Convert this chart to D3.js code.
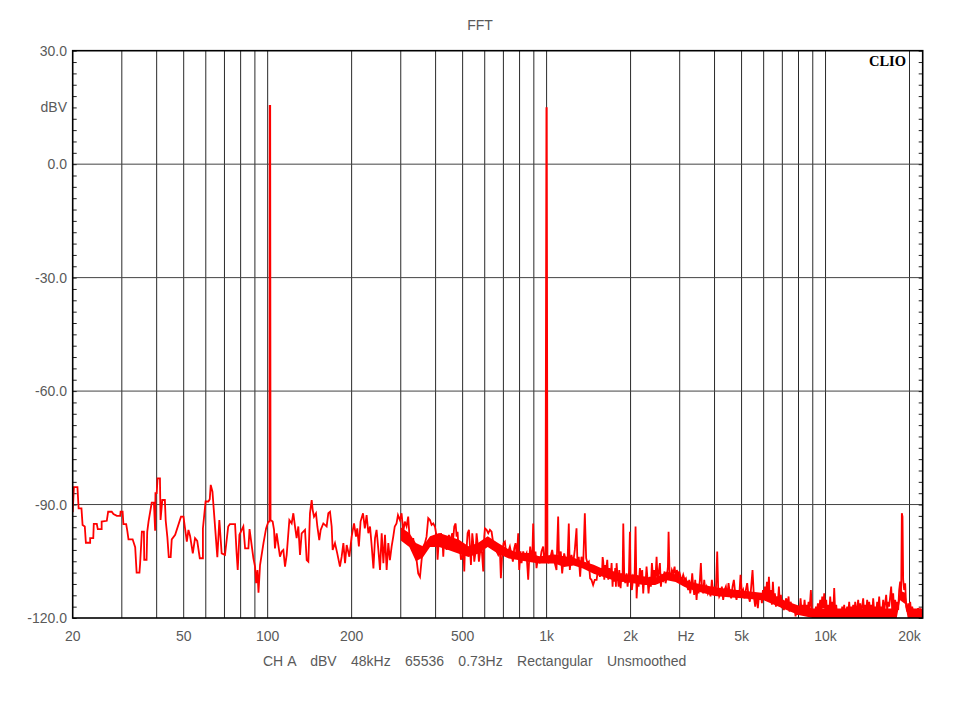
<!DOCTYPE html>
<html>
<head>
<meta charset="utf-8">
<script src="https://cdn.jsdelivr.net/npm/d3@7"></script>
<style>
  html, body { margin: 0; padding: 0; background: #fff; }
  text { font-family: "Liberation Sans", Arial, sans-serif; }
</style>
</head>
<body>
<div id="chart"></div>
<script>
// FFT trace as [Hz, dBV] pairs, one array per stretch
const lowBand = [
  [20.0,-92.0],[20.2,-85.4],[20.8,-85.4],[21.0,-91.0],[21.5,-91.0],[21.7,-95.4],[22.1,-95.8],[22.3,-100.1],
  [23.1,-100.1],[23.1,-98.9],[23.7,-98.9],[23.8,-95.1],[24.4,-95.1],[24.6,-96.5],[25.4,-96.5],[25.4,-94.5],
  [26.5,-94.3],[26.8,-91.9],[27.6,-91.9],[28.0,-92.5],[28.8,-93.0],[29.6,-93.0],[29.7,-91.9],[30.2,-91.9],
  [30.4,-95.2],[31.1,-95.2],[31.4,-97.0],[31.7,-99.2],[32.8,-99.2],[33.5,-101.3],[33.9,-108.0],[34.7,-108.0],
  [34.9,-105.5],[35.4,-97.2],[36.0,-97.2],[36.1,-104.6],[36.8,-104.6],[37.0,-97.2],[37.4,-94.5],[38.4,-89.5],
  [39.1,-89.5],[39.5,-96.9],[39.6,-87.0],[40.0,-87.0],[40.3,-83.1],[41.1,-83.1],[41.3,-94.1],[41.9,-88.8],
  [42.8,-88.8],[43.1,-94.3],[43.7,-98.7],[44.2,-103.9],[44.9,-103.9],[45.3,-99.2],[46.6,-98.0],[48.9,-93.2],
  [49.9,-93.2],[50.6,-96.5],[51.3,-99.8],[52.0,-96.7],[52.7,-98.3],[53.9,-102.9],[54.9,-98.9],[55.9,-99.6],
  [57.1,-104.2],[58.6,-104.2],[58.6,-96.3],[59.9,-89.2],[61.3,-89.2],[62.0,-88.6],[62.5,-84.8],[63.4,-86.6],
  [64.1,-91.4],[66.0,-103.9],[67.1,-94.1],[68.4,-102.9],[70.3,-103.3],[72.2,-95.8],[73.2,-95.2],[76.4,-95.2],
  [77.4,-102.9],[78.1,-107.3],[79.2,-98.0],[81.8,-95.8],[83.0,-101.6],[85.3,-101.6],[86.1,-96.5],[88.9,-104.2],
  [90.1,-106.4],[90.9,-110.8],[91.9,-107.3],[92.7,-113.3],[93.9,-106.0],[96.6,-100.2],[98.7,-96.3],[100.6,-94.5],
  [101.5,-94.5],[101.7,15.4],[102.1,15.4]
];

const midBand = [
  [102.4,-94.1],[104.2,-94.5],[105.4,-96.7],[106.2,-101.6],[107.7,-97.6],[109.2,-100.7],[110.7,-103.8],[112.3,-102.4],
  [113.8,-102.0],[115.4,-106.4],[117.0,-103.3],[119.6,-94.1],[121.9,-95.0],[123.6,-92.3],[125.3,-95.8],[127.0,-98.9],
  [128.8,-95.8],[130.6,-103.3],[132.4,-97.6],[136.1,-96.7],[138.0,-104.7],[139.9,-105.1],[141.8,-92.3],[143.8,-88.8],
  [145.0,-91.4],[146.6,-93.2],[149.0,-92.3],[150.7,-95.8],[153.1,-99.4],[154.9,-96.7],[158.3,-95.0],[162.7,-95.8],
  [165.0,-92.3],[167.3,-91.9],[169.6,-95.8],[171.0,-102.0],[174.3,-100.2],[177.6,-102.9],[181.6,-106.4],[184.2,-103.8],
  [186.8,-100.2],[189.4,-105.5],[192.0,-100.7],[196.3,-103.8],[200.0,-98.5],[204.0,-95.0],[207.3,-98.5],[209.5,-96.3],
  [212.3,-101.1],[215.3,-94.5],[219.7,-92.3],[223.0,-96.3],[226.3,-92.8],[229.6,-97.6],[232.8,-95.8],[236.1,-101.1],
  [239.4,-106.9],[242.6,-98.9],[245.7,-96.7],[249.4,-102.0],[252.8,-107.3],[256.3,-97.6],[259.9,-105.5],[263.4,-98.0],
  [267.0,-107.3],[270.7,-100.2],[274.3,-104.7],[278.2,-101.1],[282.0,-98.5],[285.5,-95.8],[289.7,-95.0],[293.2,-92.8],
  [297.9,-94.1],[302.0,-92.3],[306.3,-97.2],[310.2,-94.5],[314.7,-95.8],[319.0,-93.2],[323.5,-100.2],[327.6,-101.1],
  [332.5,-98.9],[337.0,-102.9],[341.9,-104.7],[346.5,-108.2],[351.6,-109.1],[356.3,-104.7],[361.2,-101.1],[366.2,-100.2],
  [371.2,-98.5],[376.4,-93.6],[381.8,-94.1]
];

const upperMidBand = [
  [387.0,-95.4],[392.4,-95.0],[397.8,-95.8],[403.3,-98.5],[406.6,-104.6],[411.2,-98.9],[414.6,-101.1],[418.0,-97.6],
  [422.6,-98.5],[426.1,-103.8],[429.6,-98.9],[434.4,-99.8],[438.0,-102.0],[444.0,-99.4],[446.5,-98.0],[450.2,-99.8],
  [454.0,-98.9],[459.0,-97.6],[462.8,-98.9],[466.6,-95.8],[471.8,-95.0],[475.7,-98.5],[479.6,-97.2],[482.3,-100.7],
  [489.0,-101.6],[493.0,-104.6],[498.5,-103.8],[502.6,-101.1],[506.8,-107.7],[509.6,-101.6],[515.2,-102.9],[520.9,-97.6],
  [526.7,-96.7],[531.0,-101.1],[535.4,-106.0],[541.4,-97.6],[545.8,-100.2],[550.4,-105.1],[556.4,-102.4],[561.0,-97.6],
  [565.7,-100.2],[571.9,-105.1],[576.7,-102.9],[584.6,-101.1],[592.7,-107.7],[597.6,-98.5],[600.9,-96.3],[609.3,-96.7],
  [617.7,-97.6],[626.2,-96.7],[634.9,-97.2],[643.7,-100.2],[652.6,-101.1],[661.6,-102.4],[670.8,-103.3],[680.0,-102.0],
  [685.6,-109.5],[693.3,-102.9],[701.0,-100.2],[708.7,-99.8],[718.5,-103.8],[728.4,-102.4],[738.5,-101.1],[748.7,-103.3],
  [757.0,-105.1],[765.4,-101.6],[773.8,-100.2],[782.4,-103.8],[791.0,-97.6],[797.6,-107.3],[806.4,-102.4],[813.1,-105.5],
  [824.3,-102.4],[835.7,-103.8],[847.2,-102.9],[859.0,-109.9],[866.0,-104.6],[873.2,-101.1],[882.8,-104.6],[890.1,-102.0],
  [895.0,-95.0],[902.4,-104.6],[912.4,-102.4],[920.0,-106.8],[932.6,-103.8],[945.6,-105.5],[958.6,-102.4],[971.9,-101.1],
  [979.9,-104.6],[990.8,-104.2],[998.5,14.8],[1001,14.8],[1007,-104.2],[1018,-105.1],[1033,-103.8],[1047,-102.0],
  [1056,-103.8],[1070,-105.5],[1085,-107.3],[1100,-93.2],[1109,-105.5],[1124,-102.4],[1137,-108.2],[1156,-102.9],
  [1169,-104.6],[1188,-105.5],[1201,-95.0],[1211,-107.3],[1228,-103.3],[1245,-105.5],[1262,-102.0],[1280,-96.3],
  [1290,-105.5],[1304,-103.8],[1319,-109.1],[1333,-103.8],[1352,-106.4],[1371,-92.3],[1386,-104.2],[1401,-105.5],
  [1417,-105.1],[1432,-109.5],[1448,-109.9],[1468,-111.3],[1488,-109.9]
];

const kiloBand = [
  [1511,-109.9],[1527,-107.3],[1540,-108.2],[1553,-109.1],[1566,-106.8],[1579,-108.6],[1588,-103.9],[1596,-105.1],
  [1610,-109.9],[1623,-106.0],[1632,-107.7],[1650,-104.6],[1664,-109.9],[1677,-106.8],[1696,-109.1],[1710,-105.5],
  [1724,-111.7],[1734,-107.7],[1748,-110.4],[1762,-106.8],[1772,-111.7],[1782,-105.5],[1797,-109.1],[1812,-111.7],
  [1822,-107.3],[1842,-112.1],[1857,-108.2],[1872,-110.4],[1883,-95.0],[1898,-109.1],[1914,-110.8],[1935,-108.2],
  [1951,-111.7],[1973,-108.2],[1989,-97.2],[2000,-109.9],[2022,-112.6],[2044,-109.1],[2067,-109.9],[2084,-95.8],
  [2102,-114.8],[2119,-109.9],[2137,-111.7],[2160,-106.8],[2184,-109.9],[2202,-107.3],[2220,-113.5],[2239,-109.1],
  [2263,-110.8],[2282,-106.4],[2301,-109.9],[2320,-113.5],[2346,-109.1],[2365,-111.7],[2385,-105.5],[2411,-109.9],
  [2431,-107.3],[2452,-110.4],[2479,-103.8],[2499,-109.9],[2520,-108.2],[2548,-105.5],[2569,-111.7],[2590,-109.1],
  [2619,-109.9],[2648,-107.7],[2670,-110.8],[2699,-109.1],[2722,-106.4],[2737,-97.2],[2759,-108.2],[2782,-109.9],
  [2813,-107.3],[2844,-108.2],[2876,-106.4],[2907,-109.9],[2931,-107.3],[2964,-109.1],[2988,-107.7],[3021,-109.1],
  [3055,-109.9],[3089,-108.6],[3123,-109.9],[3157,-109.5],[3192,-111.7],[3219,-112.6],[3245,-109.9],[3272,-113.5],
  [3299,-111.7],[3327,-108.2],[3354,-111.7],[3382,-113.9],[3410,-109.9],[3448,-115.2],[3476,-111.7],[3505,-113.5],
  [3544,-109.9],[3573,-105.5],[3603,-111.7],[3643,-113.5],[3673,-109.9],[3703,-112.6],[3744,-111.7],[3786,-113.5],
  [3828,-112.6],[3870,-114.3],[3913,-109.9],[3956,-113.5],[4000,-111.7],[4044,-113.0],[4089,-102.4],[4123,-112.6],
  [4157,-114.3],[4203,-113.5],[4249,-111.7],[4296,-115.2],[4344,-112.6],[4392,-111.7],[4441,-114.3],[4490,-110.8],
  [4539,-113.5],[4590,-114.8],[4640,-111.7],[4692,-109.9],[4744,-113.5],[4796,-115.2],[4849,-112.6],[4903,-114.3],
  [4957,-108.6],[5012,-113.5],[5067,-112.6],[5123,-114.8],[5180,-112.6],[5237,-110.8],[5295,-114.3],[5354,-115.7],
  [5413,-111.7],[5473,-107.3],[5534,-114.3],[5595,-117.0],[5657,-113.9],[5719,-117.4],[5783,-113.5]
];

const highBand = [
  [5815,-115.2],[5865,-113.9],[5914,-116.1],[5963,-112.6],[6012,-114.8],[6062,-111.7],[6112,-115.2],[6163,-110.4],
  [6214,-114.3],[6265,-109.1],[6317,-114.8],[6370,-112.6],[6422,-116.5],[6475,-110.4],[6529,-115.2],[6583,-113.5],
  [6638,-117.0],[6693,-114.3],[6748,-115.7],[6804,-111.7],[6861,-116.5],[6917,-113.9],[6975,-117.4],[7032,-115.2],
  [7091,-117.9],[7149,-116.1],[7228,-114.8],[7308,-117.0],[7369,-114.3],[7430,-118.3],[7491,-115.7],[7554,-116.5],
  [7616,-117.0],[7679,-118.3],[7743,-117.4],[7807,-119.6],[7872,-117.4],[7937,-119.2],[8003,-117.0],[8069,-118.3],
  [8136,-114.8],[8203,-118.3],[8271,-116.5],[8340,-118.3],[8409,-115.2],[8479,-118.3],[8549,-116.5],[8620,-118.7],
  [8691,-115.7],[8763,-117.9],[8860,-112.6],[8933,-117.9],[9007,-119.6],[9082,-118.3],[9158,-119.6],[9234,-117.0],
  [9310,-118.7],[9387,-116.1],[9465,-118.3],[9569,-115.2],[9649,-118.3],[9729,-114.3],[9809,-117.4],[9890,-113.5],
  [9973,-117.9],[10055,-115.2],[10138,-119.6],[10222,-116.5],[10307,-119.2],[10393,-114.3],[10479,-118.3],[10566,-115.7],
  [10653,-119.2],[10741,-112.1],[10830,-118.7],[10920,-116.5],[11010,-119.6],[11101,-117.9],[11193,-119.6],[11286,-118.3],
  [11379,-120.0],[11474,-117.0],[11569,-119.2],[11664,-116.5],[11761,-119.6],[11858,-118.3],[11957,-117.0],[12056,-119.2],
  [12156,-115.7],[12256,-119.6],[12358,-117.0],[12460,-118.7],[12564,-116.5],[12668,-119.6],[12773,-115.7],[12879,-118.7],
  [12985,-117.4],[13093,-115.2],[13201,-119.2],[13311,-116.1],[13421,-118.3],[13532,-117.0],[13644,-114.8],[13757,-119.2],
  [13871,-116.5],[13986,-118.3],[14102,-115.2],[14219,-118.7],[14336,-115.7],[14455,-117.9],[14575,-116.5],[14696,-119.2],
  [14817,-114.8],[14940,-118.3],[15064,-117.0],[15189,-118.7],[15315,-115.7],[15442,-118.3],[15570,-114.3],[15699,-118.7],
  [15829,-117.0],[15960,-118.3],[16092,-115.2],[16225,-118.3],[16360,-116.1],[16495,-113.9],[16632,-117.9],[16770,-115.7],
  [16909,-117.0],[17049,-114.3],[17190,-111.7],[17333,-117.9],[17476,-113.5],[17621,-118.3],[17767,-115.2],[17915,-118.3],
  [18063,-115.7],[18213,-117.9],[18364,-112.6],[18516,-110.4],[18669,-113.5],[18772,-92.3],[18876,-93.2],[18980,-109.9],
  [19138,-112.6],[19296,-110.8],[19456,-117.0],[19618,-118.3],[19780,-116.1],[19945,-118.3],[20110,-115.7],[20277,-118.7],
  [20444,-117.0],[20614,-118.3],[20784,-119.2],[20957,-117.9],[21130,-119.6],[21306,-118.3],[21482,-117.4],[21660,-119.2],
  [21840,-117.9],[22021,-118.7],[22203,-119.6]
];

// where the bins crowd together the trace reads as a solid core: [Hz, top dBV, bottom dBV]
const solidBand = [
  [300,-96.0,-99.5],[322,-97.5,-101.2],[340,-100.2,-105.0],[360,-101.0,-104.0],[382,-98.4,-101.2],
  [412,-97.5,-101.2],[447,-98.4,-102.1],[485,-99.3,-103.0],[525,-101.0,-103.9],[567,-100.2,-103.0],
  [615,-98.4,-101.2],[670,-100.2,-103.0],[732,-101.9,-104.3],[800,-102.8,-104.7],[867,-102.8,-105.2],
  [940,-103.7,-105.6],[1000,-103.5,-105.6],[1070,-103.2,-105.6],[1155,-103.7,-106.5],[1250,-104.1,-106.1],
  [1350,-105.0,-106.9],[1475,-105.9,-108.3],[1610,-107.2,-109.2],[1735,-107.7,-110.0],[1900,-108.5,-110.5],
  [2075,-108.5,-110.9],[2225,-109.0,-111.3],[2450,-109.4,-111.3],[2700,-107.7,-110.0],[2900,-108.5,-110.5],
  [3125,-109.9,-111.8],[3375,-110.7,-112.7],[4000,-111.9,-114.2],[4500,-112.3,-114.5],[5000,-112.7,-114.8],
  [6000,-113.4,-115.3],[7000,-115.2,-117.4],[8000,-116.7,-119.2],[9000,-117.5,-120.0],[18000,-117.5,-120.0],
  [18500,-112.8,-115.3],[19300,-113.3,-116.3],[19700,-117.5,-120.0],[22300,-117.5,-120.0]
];

// axes
const freqDomain = [20, 22300];
const levelDomain = [-120, 30];
const gridFreqs = [30,40,50,60,70,80,90,100,200,300,400,500,600,700,800,900,
                   1000,2000,3000,4000,5000,6000,7000,8000,9000,10000,20000];
const xTickValues = [20,50,100,200,500,1000,2000,5000,10000,20000];
const xTickLabels = ["20","50","100","200","500","1k","2k","5k","10k","20k"];
const xUnitAt = 3160;
const yGridValues = [0,-30,-60,-90];
const yTickValues = [30,0,-30,-60,-90,-120];
const yTickLabels = ["30.0","0.0","-30.0","-60.0","-90.0","-120.0"];
const yUnitAt = 15;
const captionText = "CH A   dBV   48kHz   65536   0.73Hz   Rectangular   Unsmoothed";

const width = 960, height = 720;
const plotLeft = 72.7, plotRight = 922.7, plotTop = 50.7, plotBottom = 618;

const svg = d3.select("#chart").append("svg")
    .attr("width", width)
    .attr("height", height)
    .style("display", "block");

svg.append("rect").attr("width", width).attr("height", height).attr("fill", "#fff");

const x = d3.scaleLog().domain(freqDomain).range([plotLeft, plotRight]);
const y = d3.scaleLinear().domain(levelDomain).range([plotBottom, plotTop]);

// grid
svg.append("g").selectAll("line")
    .data(gridFreqs)
    .join("line")
    .attr("x1", d => x(d)).attr("x2", d => x(d))
    .attr("y1", plotTop).attr("y2", plotBottom)
    .attr("stroke", "#2a2a2a")
    .attr("stroke-width", 1);

svg.append("g").selectAll("line")
    .data(yGridValues)
    .join("line")
    .attr("x1", plotLeft).attr("x2", plotRight)
    .attr("y1", d => y(d)).attr("y2", d => y(d))
    .attr("stroke", "#444")
    .attr("stroke-width", 1);

// small 3 dB ticks inside both sides
const minorTicks = d3.range(-120, 31, 3);
svg.append("g")
    .attr("transform", `translate(${plotLeft},0)`)
    .call(d3.axisLeft(y).tickValues(minorTicks).tickSize(-4).tickFormat(""))
    .call(g => g.select(".domain").remove())
    .call(g => g.selectAll("line").attr("stroke", "#222"));
svg.append("g")
    .attr("transform", `translate(${plotRight},0)`)
    .call(d3.axisRight(y).tickValues(minorTicks).tickSize(-4).tickFormat(""))
    .call(g => g.select(".domain").remove())
    .call(g => g.selectAll("line").attr("stroke", "#222"));

// trace
svg.append("clipPath").attr("id", "plot-clip")
  .append("rect")
    .attr("x", plotLeft).attr("y", plotTop)
    .attr("width", plotRight - plotLeft).attr("height", plotBottom - plotTop);

const band = d3.area()
    .x(d => x(d[0]))
    .y0(d => y(d[2]))
    .y1(d => y(d[1]));

svg.append("path")
    .datum(solidBand)
    .attr("clip-path", "url(#plot-clip)")
    .attr("fill", "#ff0000")
    .attr("d", band);

const trace = [].concat(lowBand, midBand, upperMidBand, kiloBand, highBand);

const line = d3.line()
    .x(d => x(d[0]))
    .y(d => y(d[1]));

svg.append("path")
    .datum(trace)
    .attr("clip-path", "url(#plot-clip)")
    .attr("fill", "none")
    .attr("stroke", "#ff0000")
    .attr("stroke-width", 1.8)
    .attr("stroke-linejoin", "miter")
    .attr("d", line);

// frame
svg.append("rect")
    .attr("x", plotLeft).attr("y", plotTop)
    .attr("width", plotRight - plotLeft).attr("height", plotBottom - plotTop)
    .attr("fill", "none")
    .attr("stroke", "#000")
    .attr("stroke-width", 1.6);

// labels
const labelColor = "#5a5a5a";

svg.append("g").selectAll("text")
    .data(xTickValues)
    .join("text")
    .attr("x", d => x(d))
    .attr("y", 641)
    .attr("text-anchor", "middle")
    .attr("font-size", 14)
    .attr("fill", labelColor)
    .text((d, i) => xTickLabels[i]);

svg.append("text")
    .attr("x", x(xUnitAt)).attr("y", 641)
    .attr("text-anchor", "middle")
    .attr("font-size", 14)
    .attr("fill", labelColor)
    .text("Hz");

svg.append("g").selectAll("text")
    .data(yTickValues)
    .join("text")
    .attr("x", 67)
    .attr("y", d => y(d))
    .attr("dy", "0.36em")
    .attr("text-anchor", "end")
    .attr("font-size", 14)
    .attr("fill", labelColor)
    .text((d, i) => yTickLabels[i]);

svg.append("text")
    .attr("x", 67).attr("y", y(yUnitAt))
    .attr("dy", "0.36em")
    .attr("text-anchor", "end")
    .attr("font-size", 14)
    .attr("fill", labelColor)
    .text("dBV");

svg.append("text")
    .attr("x", 480).attr("y", 30)
    .attr("text-anchor", "middle")
    .attr("font-size", 14)
    .attr("fill", labelColor)
    .text("FFT");

svg.append("text")
    .attr("x", 263).attr("y", 666)
    .attr("font-size", 14)
    .attr("fill", labelColor)
    .style("white-space", "pre")
    .style("word-spacing", "0.9px")
    .text(captionText);

svg.append("text")
    .attr("x", 906).attr("y", 66)
    .attr("text-anchor", "end")
    .attr("font-size", 14.5)
    .attr("font-weight", "bold")
    .attr("fill", "#000")
    .style("font-family", "'Liberation Serif', 'Times New Roman', serif")
    .text("CLIO");
</script>
</body>
</html>
